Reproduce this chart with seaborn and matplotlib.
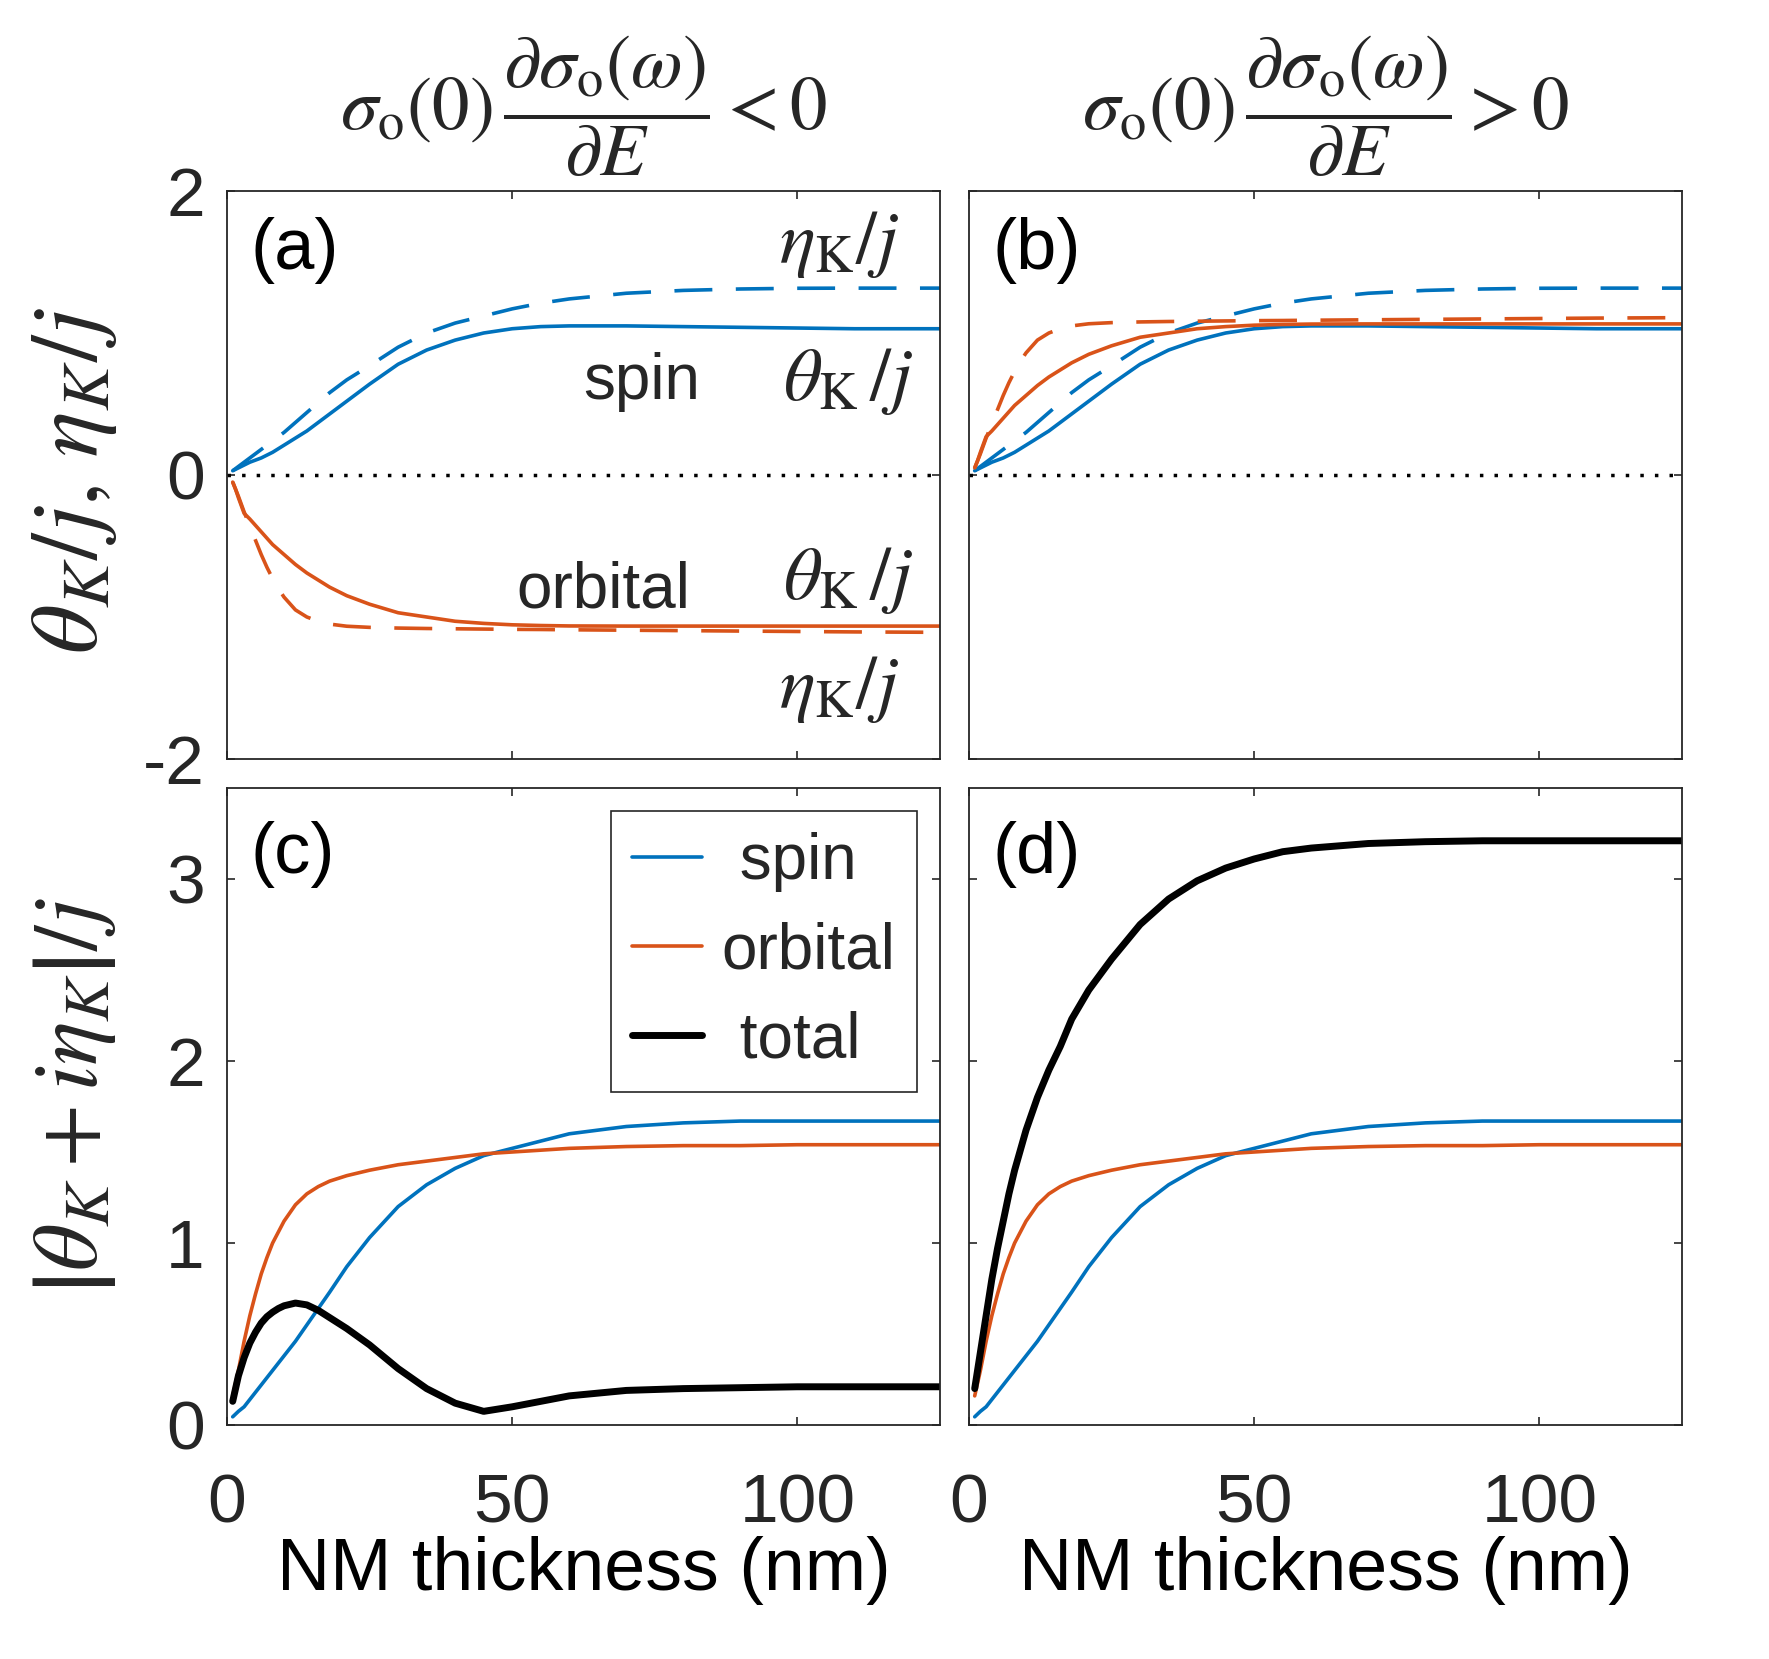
#!/usr/bin/env python3

import pandas as pd
import matplotlib
matplotlib.use("Agg")
from matplotlib import pyplot as plt
from matplotlib.lines import Line2D
import seaborn as sns

sns.set_theme(style="ticks")
plt.rcParams["font.family"] = ["Liberation Sans", "DejaVu Sans"]
plt.rcParams["mathtext.fontset"] = "stix"
plt.rcParams["axes.unicode_minus"] = False

BLUE = "#0072BD"
ORANGE = "#D95319"
GREY = "#262626"

# thickness grid (nm)
thickness = [1, 1.5, 2, 3, 4, 5, 6, 7, 8, 9, 10, 12, 14, 16, 18, 21, 25, 30,
             35, 40, 45, 50, 55, 60, 70, 80, 90, 100, 110, 125]

# top row: theta_K/j (solid) and eta_K/j (dashed)
spin_theta = [0.03, 0.04, 0.05, 0.07, 0.09, 0.105, 0.12, 0.14, 0.16, 0.185,
              0.21, 0.26, 0.31, 0.37, 0.43, 0.52, 0.64, 0.78, 0.88, 0.95,
              1.00, 1.03, 1.045, 1.05, 1.05, 1.045, 1.04, 1.035, 1.03, 1.03]
spin_eta = [0.03, 0.045, 0.06, 0.09, 0.12, 0.15, 0.18, 0.21, 0.24, 0.27,
            0.30, 0.37, 0.44, 0.51, 0.58, 0.67, 0.77, 0.90, 1.00, 1.07,
            1.12, 1.17, 1.21, 1.24, 1.28, 1.30, 1.31, 1.315, 1.316, 1.316]
orb_theta = [0.05, 0.10, 0.16, 0.27, 0.31, 0.355, 0.40, 0.445, 0.49, 0.525,
             0.56, 0.63, 0.69, 0.74, 0.79, 0.85, 0.91, 0.97, 1.00, 1.03,
             1.045, 1.055, 1.06, 1.063, 1.064, 1.064, 1.064, 1.064, 1.064, 1.064]
orb_eta = [0.05, 0.10, 0.15, 0.26, 0.36, 0.46, 0.56, 0.65, 0.73, 0.80,
           0.86, 0.95, 1.00, 1.03, 1.05, 1.065, 1.073, 1.078, 1.081, 1.083,
           1.085, 1.087, 1.088, 1.09, 1.093, 1.096, 1.099, 1.102, 1.105, 1.108]

# bottom row: |theta_K + i eta_K|/j
spin_abs = [0.045, 0.06, 0.075, 0.10, 0.14, 0.18, 0.22, 0.26, 0.30, 0.34,
            0.38, 0.46, 0.55, 0.64, 0.73, 0.87, 1.03, 1.20, 1.32, 1.41,
            1.48, 1.52, 1.56, 1.60, 1.64, 1.66, 1.67, 1.67, 1.67, 1.67]
orb_abs = [0.16, 0.23, 0.30, 0.46, 0.60, 0.72, 0.83, 0.92, 1.00, 1.06,
           1.12, 1.21, 1.27, 1.31, 1.34, 1.37, 1.40, 1.43, 1.45, 1.47,
           1.49, 1.50, 1.51, 1.52, 1.53, 1.535, 1.535, 1.54, 1.54, 1.54]
total_abs_neg = [0.13, 0.20, 0.27, 0.37, 0.45, 0.51, 0.56, 0.595, 0.62, 0.64,
                 0.655, 0.67, 0.66, 0.63, 0.59, 0.53, 0.44, 0.31, 0.20, 0.12,
                 0.075, 0.10, 0.13, 0.16, 0.19, 0.20, 0.205, 0.21, 0.21, 0.21]
total_abs_pos = [0.20, 0.30, 0.40, 0.60, 0.80, 0.97, 1.12, 1.27, 1.40, 1.51,
                 1.62, 1.80, 1.95, 2.08, 2.23, 2.39, 2.56, 2.75, 2.89, 2.99,
                 3.06, 3.11, 3.15, 3.17, 3.195, 3.205, 3.21, 3.21, 3.21, 3.21]

df = pd.DataFrame({"t": thickness, "spin_theta": spin_theta, "spin_eta": spin_eta,
                   "orb_theta": orb_theta, "orb_eta": orb_eta,
                   "spin_abs": spin_abs, "orb_abs": orb_abs,
                   "total_neg": total_abs_neg, "total_pos": total_abs_pos})
# sign of sigma_o(0) d sigma_o / dE flips the orbital part
df["orb_theta_neg"] = -df["orb_theta"]
df["orb_eta_neg"] = -df["orb_eta"]

W, H = 1769, 1659
fig = plt.figure(figsize=(W / 100, H / 100), dpi=100)


def box(x0, y0, x1, y1):
    return fig.add_axes([x0 / W, 1 - y1 / H, (x1 - x0) / W, (y1 - y0) / H])


ax_a = box(227, 191, 940, 759)
ax_b = box(969, 191, 1682, 759)
ax_c = box(227, 788, 940, 1425)
ax_d = box(969, 788, 1682, 1425)

DASH = (0, (10.5, 6.5))
LW = 2.6

for ax, orb_t, orb_e in [(ax_a, "orb_theta_neg", "orb_eta_neg"), (ax_b, "orb_theta", "orb_eta")]:
    ax.axhline(0, color="black", lw=2.5, ls=(0, (1, 3.2)))
    sns.lineplot(data=df, x="t", y="spin_eta", ax=ax, color=BLUE, lw=LW, linestyle=DASH, estimator=None)
    sns.lineplot(data=df, x="t", y="spin_theta", ax=ax, color=BLUE, lw=LW, estimator=None)
    sns.lineplot(data=df, x="t", y=orb_e, ax=ax, color=ORANGE, lw=LW, linestyle=DASH, estimator=None)
    sns.lineplot(data=df, x="t", y=orb_t, ax=ax, color=ORANGE, lw=LW, estimator=None)
    ax.set_ylim(-2, 2)
    ax.set_yticks([-2, 0, 2])

for ax, tot in [(ax_c, "total_neg"), (ax_d, "total_pos")]:
    sns.lineplot(data=df, x="t", y="spin_abs", ax=ax, color=BLUE, lw=LW, estimator=None)
    sns.lineplot(data=df, x="t", y="orb_abs", ax=ax, color=ORANGE, lw=LW, estimator=None)
    sns.lineplot(data=df, x="t", y=tot, ax=ax, color="black", lw=5, estimator=None)
    ax.set_ylim(0, 3.5)
    ax.set_yticks([0, 1, 2, 3])

for ax, tag in zip([ax_a, ax_b, ax_c, ax_d], "abcd"):
    ax.set_xlim(0, 125)
    ax.set_xticks([0, 50, 100])
    ax.set_xlabel("")
    ax.set_ylabel("")
    for sp in ax.spines.values():
        sp.set_visible(True)
        sp.set_color(GREY)
        sp.set_linewidth(1.3)
    ax.tick_params(direction="in", length=6, width=1.2, color=GREY, top=True, right=True,
                   labelsize=50, labelcolor=GREY)
    ax.tick_params(axis="x", pad=34)
    ax.tick_params(axis="y", pad=16)
    ax.text(0.033, 0.895, "(%s)" % tag, transform=ax.transAxes, fontsize=52,
            ha="left", va="center", color="black")

ax_a.tick_params(labelbottom=False)
ax_b.tick_params(labelbottom=False, labelleft=False)
ax_d.tick_params(labelleft=False)
ax_a.set_yticklabels(["-2", "0", "2"])

for ax in [ax_c, ax_d]:
    ax.set_xlabel("NM thickness (nm)", fontsize=53, color="black", labelpad=0)

# curve annotations in panel (a)
ax_a.text(62.5, 0.655, "spin", fontsize=46, ha="left", va="center")
ax_a.text(50.8, -0.81, "orbital", fontsize=46, ha="left", va="center")
ax_a.text(96.8, 1.62, r"$\eta_{\mathrm{K}}/j$", fontsize=54, ha="left", va="center")
ax_a.text(97.4, 0.655, r"$\theta_{\mathrm{K}}\,/j$", fontsize=54, ha="left", va="center")
ax_a.text(97.4, -0.74, r"$\theta_{\mathrm{K}}\,/j$", fontsize=54, ha="left", va="center")
ax_a.text(96.8, -1.51, r"$\eta_{\mathrm{K}}/j$", fontsize=54, ha="left", va="center")

leg_handles = [Line2D([], [], color=BLUE, lw=LW),
               Line2D([], [], color=ORANGE, lw=LW),
               Line2D([], [], color="black", lw=5)]
leg = ax_c.legend(leg_handles, [" spin", "orbital", " total"], loc="upper left",
                  bbox_to_anchor=(0.5386, 0.964), borderaxespad=0, fontsize=46,
                  handlelength=1.1, handletextpad=0.3, borderpad=0.33, labelspacing=0.46,
                  fancybox=False, framealpha=1, edgecolor=GREY)
leg.get_frame().set_linewidth(1.2)

fig.text(74 / W, 1 - 480 / H, r"$\theta_K/j,\,\eta_K/j$", rotation=90, fontsize=69,
         ha="center", va="center")
fig.text(74 / W, 1 - 1096 / H, r"$\left|\theta_K + i\eta_K\right|/j$", rotation=90, fontsize=66,
         ha="center", va="center")

title_neg = r"$\sigma_{\mathrm{o}}(0)\,\dfrac{\partial\sigma_{\mathrm{o}}(\omega)}{\partial E} < 0$"
title_pos = r"$\sigma_{\mathrm{o}}(0)\,\dfrac{\partial\sigma_{\mathrm{o}}(\omega)}{\partial E} > 0$"
fig.text(583.5 / W, 1 - 106 / H, title_neg, fontsize=54, ha="center", va="center")
fig.text(1325.5 / W, 1 - 106 / H, title_pos, fontsize=54, ha="center", va="center")

fig.savefig("out.png", dpi=100, facecolor="white")
